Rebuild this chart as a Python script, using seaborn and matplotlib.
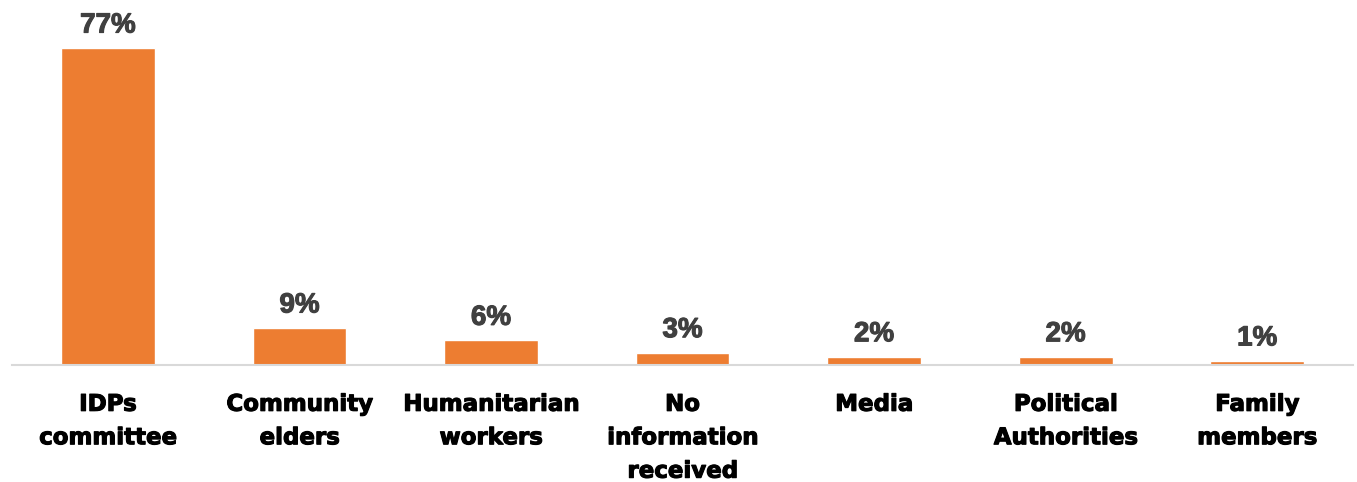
"""Source of information bar chart."""

import matplotlib.patheffects as pe
import matplotlib.pyplot as plt
import pandas as pd
import seaborn as sns

categories = [
    "IDPs\ncommittee",
    "Community\nelders",
    "Humanitarian\nworkers",
    "No\ninformation\nreceived",
    "Media",
    "Political\nAuthorities",
    "Family\nmembers",
]
shares = [77, 9, 6, 3, 2, 2, 1]

sns.set_theme(style="white")
plt.rcParams["font.family"] = ["DejaVu Sans"]

df = pd.DataFrame({"category": categories, "share": shares})

fig = plt.figure(figsize=(13.57, 4.82), dpi=100)
ax = fig.add_axes([0.009, 0.2427, 0.988, 0.726])
sns.barplot(data=df, x="category", y="share", color="#ED7D31", width=0.49,
            saturation=1, ax=ax)

for patch, value in zip(ax.patches, shares):
    ax.text(patch.get_x() + patch.get_width() / 2, patch.get_height() + 2.3,
            f"{value}%", ha="center", va="bottom", fontsize=20,
            fontweight="bold", color="#404040", family="Liberation Sans",
            path_effects=[pe.withStroke(linewidth=0.8, foreground="#404040")])

ax.set_ylim(0, 85)
ax.set_xlim(-0.5, len(categories) - 0.5)
ax.set_xlabel("")
ax.set_ylabel("")
ax.set_yticks([])
ax.tick_params(axis="x", length=0, pad=20)
for label in ax.get_xticklabels():
    label.set_fontsize(16.5)
    label.set_fontweight("bold")
    label.set_color("black")
    label.set_linespacing(1.58)
    label.set_va("top")
    label.set_path_effects([pe.withStroke(linewidth=0.8, foreground="black")])

for side in ["top", "right", "left"]:
    ax.spines[side].set_visible(False)
ax.spines["bottom"].set_color("#D9D9D9")
ax.spines["bottom"].set_linewidth(1.5)

fig.savefig("out.png", dpi=100)
